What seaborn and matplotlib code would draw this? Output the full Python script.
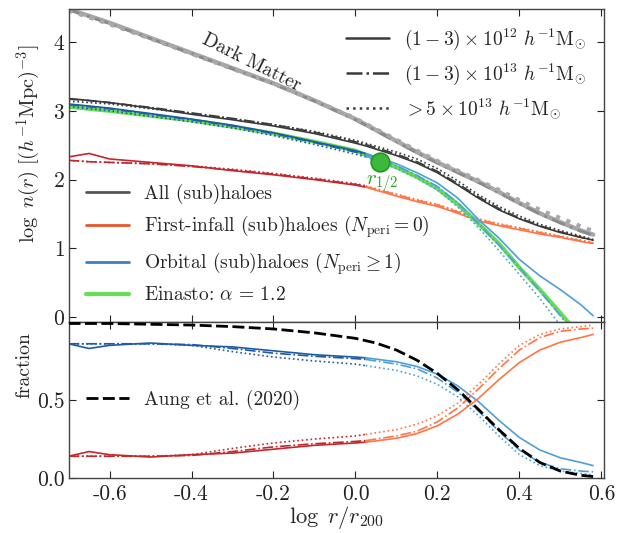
import numpy as np
import pandas as pd
import matplotlib
matplotlib.use("Agg")
import matplotlib.pyplot as plt
import seaborn as sns
from matplotlib.lines import Line2D

# ---------------- data ----------------
xg = [-0.70, -0.65, -0.60, -0.50, -0.40, -0.30, -0.20, -0.10, 0.00, 0.025,
      0.10, 0.15, 0.20, 0.25, 0.30, 0.35, 0.40, 0.45, 0.50, 0.55, 0.58]

dm_solid = [4.48, 4.38, 4.28, 4.06, 3.84, 3.62, 3.40, 3.15, 2.88, 2.80,
            2.56, 2.40, 2.25, 2.11, 1.97, 1.82, 1.66, 1.51, 1.38, 1.26, 1.20]
dm_dashdot = [4.47, 4.37, 4.27, 4.05, 3.83, 3.61, 3.39, 3.14, 2.87, 2.79,
              2.55, 2.39, 2.24, 2.10, 1.96, 1.81, 1.65, 1.50, 1.37, 1.25, 1.19]
dm_dotted = [4.46, 4.36, 4.26, 4.05, 3.83, 3.61, 3.40, 3.15, 2.89, 2.81,
             2.58, 2.42, 2.27, 2.13, 1.99, 1.85, 1.70, 1.56, 1.44, 1.32, 1.25]

all_solid = [3.18, 3.15, 3.12, 3.04, 2.95, 2.87, 2.78, 2.67, 2.53, 2.49,
             2.35, 2.24, 2.10, 1.92, 1.73, 1.56, 1.43, 1.32, 1.23, 1.16, 1.12]
all_dashdot = [3.17, 3.15, 3.12, 3.05, 2.97, 2.89, 2.80, 2.69, 2.55, 2.51,
               2.37, 2.26, 2.12, 1.94, 1.75, 1.58, 1.44, 1.33, 1.24, 1.16, 1.12]
all_dotted = [3.14, 3.12, 3.10, 3.03, 2.96, 2.88, 2.80, 2.70, 2.57, 2.53,
              2.40, 2.30, 2.16, 1.98, 1.78, 1.61, 1.47, 1.35, 1.26, 1.18, 1.13]

infall_solid = [2.33, 2.38, 2.30, 2.25, 2.20, 2.13, 2.07, 2.00, 1.92, 1.89,
                1.76, 1.68, 1.61, 1.51, 1.40, 1.33, 1.27, 1.21, 1.16, 1.10, 1.07]
infall_dashdot = [2.28, 2.26, 2.25, 2.23, 2.19, 2.14, 2.08, 2.01, 1.93, 1.90,
                  1.78, 1.70, 1.63, 1.53, 1.42, 1.35, 1.29, 1.23, 1.17, 1.11, 1.08]
infall_dotted = [2.28, 2.26, 2.25, 2.23, 2.20, 2.15, 2.09, 2.02, 1.94, 1.91,
                 1.79, 1.71, 1.64, 1.54, 1.43, 1.36, 1.30, 1.24, 1.18, 1.12, 1.09]

orb_solid = [3.10, 3.07, 3.04, 2.96, 2.88, 2.79, 2.68, 2.55, 2.42, 2.38,
             2.23, 2.10, 1.95, 1.73, 1.42, 1.15, 0.84, 0.60, 0.40, 0.18, 0.02]
orb_dashdot = [3.09, 3.06, 3.03, 2.95, 2.87, 2.78, 2.67, 2.54, 2.40, 2.36,
               2.20, 2.06, 1.90, 1.66, 1.36, 1.05, 0.72, 0.38, 0.02, -0.40, -0.60]
orb_dotted = [3.06, 3.03, 3.00, 2.92, 2.84, 2.75, 2.64, 2.51, 2.37, 2.33,
              2.16, 2.02, 1.85, 1.60, 1.30, 0.97, 0.62, 0.27, -0.12, -0.50, -0.70]

x_ein = [-0.70, -0.60, -0.50, -0.40, -0.30, -0.20, -0.10, 0.00, 0.10, 0.15,
         0.20, 0.25, 0.30, 0.35, 0.40, 0.45, 0.50, 0.52]
y_ein = [3.06, 3.00, 2.93, 2.86, 2.77, 2.67, 2.55, 2.42, 2.18, 2.04,
         1.87, 1.64, 1.36, 1.07, 0.72, 0.40, 0.06, -0.08]

r_half_x = [0.06]
r_half_y = [2.25]

# fractions
orbf_solid = [0.86, 0.83, 0.85, 0.865, 0.85, 0.84, 0.815, 0.79, 0.775, 0.77,
              0.745, 0.715, 0.665, 0.59, 0.49, 0.37, 0.26, 0.18, 0.13, 0.10, 0.08]
orbf_dashdot = [0.86, 0.86, 0.86, 0.86, 0.855, 0.83, 0.80, 0.78, 0.765, 0.76,
                0.73, 0.70, 0.64, 0.55, 0.43, 0.30, 0.18, 0.10, 0.06, 0.045, 0.04]
orbf_dotted = [0.86, 0.86, 0.86, 0.86, 0.85, 0.81, 0.775, 0.75, 0.73, 0.72,
               0.69, 0.655, 0.60, 0.52, 0.40, 0.27, 0.15, 0.08, 0.045, 0.03, 0.02]
infallf_solid = [0.14, 0.17, 0.15, 0.135, 0.15, 0.16, 0.185, 0.21, 0.225, 0.23,
                 0.255, 0.285, 0.335, 0.41, 0.51, 0.63, 0.74, 0.82, 0.87, 0.90, 0.92]
infallf_dashdot = [0.14, 0.14, 0.14, 0.14, 0.145, 0.17, 0.20, 0.22, 0.235, 0.24,
                   0.27, 0.30, 0.36, 0.45, 0.57, 0.70, 0.82, 0.90, 0.94, 0.955, 0.96]
infallf_dotted = [0.14, 0.14, 0.14, 0.14, 0.15, 0.19, 0.225, 0.25, 0.27, 0.28,
                  0.31, 0.345, 0.40, 0.48, 0.60, 0.73, 0.85, 0.92, 0.955, 0.97, 0.98]

x_aung = [-0.70, -0.60, -0.50, -0.40, -0.30, -0.20, -0.10, 0.00, 0.05, 0.10,
          0.15, 0.20, 0.25, 0.30, 0.35, 0.40, 0.45, 0.50, 0.55, 0.58]
f_aung = [0.99, 0.99, 0.985, 0.98, 0.97, 0.955, 0.93, 0.895, 0.865, 0.82,
          0.755, 0.67, 0.565, 0.44, 0.31, 0.19, 0.10, 0.045, 0.018, 0.01]

xticks = [-0.6, -0.4, -0.2, 0.0, 0.2, 0.4, 0.6]
xticklabels = ["-0.6", "-0.4", "-0.2", "0.0", "0.2", "0.4", "0.6"]

# ---------------- style ----------------
sns.set_theme(style="ticks")
plt.rcParams["font.family"] = ["cmr10", "DejaVu Serif"]
plt.rcParams["mathtext.fontset"] = "cm"
plt.rcParams["axes.unicode_minus"] = False
plt.rcParams["axes.formatter.use_mathtext"] = True

FS = 14
TICKFS = 15.5
C_ALL = "#3a3a3a"
C_DM = "#a8a8a8"
C_DM2 = "#8a8a8a"
C_RED_D = "#c4262b"
C_RED_L = "#ff7546"
C_BLU_D = "#1f5aa6"
C_BLU_L = "#4e9fd8"
C_EIN = "#66dd55"
AUNG_DASH = (0, (4.3, 1.6))

fig = plt.figure(figsize=(6.18, 5.33), dpi=100)
ax1 = fig.add_axes([0.111, 0.396, 0.866, 0.587])
ax2 = fig.add_axes([0.111, 0.103, 0.866, 0.293])

styles = ["-", "-.", ":"]
SPLIT = 9  # index of x=0.025 where colour changes


def draw(ax, xs, ys, color, ls, lw, zorder=2):
    sns.lineplot(x=xs, y=ys, ax=ax, color=color, linestyle=ls, lw=lw,
                 sort=False, estimator=None, legend=False, zorder=zorder)


def split_draw(ax, ys, cd, cl, ls, lw=1.2):
    draw(ax, xg[:SPLIT + 1], ys[:SPLIT + 1], cd, ls, lw)
    draw(ax, xg[SPLIT:], ys[SPLIT:], cl, ls, lw)


# top panel
draw(ax1, xg, dm_solid, C_DM, "-", 3.2, 1)
draw(ax1, xg, dm_dashdot, C_DM2, (0, (5, 2, 1, 2)), 2.0, 1)
draw(ax1, xg, dm_dotted, C_DM, ":", 3.0, 1)

for ys, ls in zip([all_solid, all_dashdot, all_dotted], styles):
    draw(ax1, xg, ys, C_ALL, ls, 1.2)
for ys, ls in zip([infall_solid, infall_dashdot, infall_dotted], styles):
    split_draw(ax1, ys, C_RED_D, C_RED_L, ls)
draw(ax1, x_ein, y_ein, C_EIN, "-", 3.0, 2)
for ys, ls in zip([orb_solid, orb_dashdot, orb_dotted], styles):
    split_draw(ax1, ys, C_BLU_D, C_BLU_L, ls)

sns.scatterplot(x=r_half_x, y=r_half_y, ax=ax1, s=180, color="#3cb83c",
                edgecolor="#229922", linewidth=1.2, zorder=5, legend=False)
ax1.text(0.066, 1.93, r"$r_{1/2}$", color="#2ca02c", fontsize=15,
         ha="center", va="center", zorder=6)
ax1.text(-0.255, 3.70, "Dark Matter", fontsize=FS, rotation=-26.5,
         rotation_mode="anchor", ha="center", va="center", color="#222222")

# bottom panel
draw(ax2, x_aung, f_aung, "black", AUNG_DASH, 2.0, 3)
for ys, ls in zip([orbf_solid, orbf_dashdot, orbf_dotted], styles):
    split_draw(ax2, ys, C_BLU_D, C_BLU_L, ls)
for ys, ls in zip([infallf_solid, infallf_dashdot, infallf_dotted], styles):
    split_draw(ax2, ys, C_RED_D, C_RED_L, ls)

# axes
for ax in (ax1, ax2):
    ax.set_xlim(-0.70, 0.606)
    ax.set_xticks(xticks)
    ax.tick_params(direction="in", top=True, right=True, length=5,
                   width=0.8, labelsize=TICKFS, colors="#222222")
    ax.tick_params(axis="y", pad=2.5)
    ax.tick_params(axis="x", pad=4.5)
    for s in ax.spines.values():
        s.set_color("#444444")
        s.set_linewidth(1.0)
ax1.set_ylim(-0.07, 4.48)
ax1.set_yticks([0, 1, 2, 3, 4])
ax1.set_xticklabels([])
ax2.set_ylim(0.0, 1.0)
ax2.set_yticks([0.0, 0.5])
ax2.set_yticklabels(["0.0", "0.5"])
ax2.set_xticklabels(xticklabels)

ax1.set_ylabel(r"$\log\ n(r)\ [(h^{-1}{\rm Mpc})^{-3}]$", fontsize=14.7)
ax2.set_ylabel("fraction", fontsize=14.2)
ax2.set_xlabel(r"$\log\ r/r_{200}$", fontsize=16.2)
ax1.yaxis.set_label_coords(-0.047, 0.57)
ax2.yaxis.set_label_coords(-0.066, 0.724)
ax2.xaxis.set_label_coords(0.5, -0.165)

# legends
h1 = [Line2D([], [], color=C_ALL, ls="-", lw=1.8),
      Line2D([], [], color=C_ALL, ls="-.", lw=1.8),
      Line2D([], [], color=C_ALL, ls=":", lw=1.8)]
l1 = [r"$(1-3)\times10^{12}\ h^{-1}{\rm M}_{\odot}$",
      r"$(1-3)\times10^{13}\ h^{-1}{\rm M}_{\odot}$",
      r"$>5\times10^{13}\ h^{-1}{\rm M}_{\odot}$"]
leg1 = ax1.legend(h1, l1, loc="upper right", frameon=False, fontsize=FS,
                  handlelength=2.2, labelspacing=0.5)
ax1.add_artist(leg1)

h2 = [Line2D([], [], color="#555555", lw=2),
      Line2D([], [], color="#e8572a", lw=2),
      Line2D([], [], color="#3a80c4", lw=2),
      Line2D([], [], color=C_EIN, lw=3)]
l2 = ["All (sub)haloes",
      r"First-infall (sub)haloes ($N_{\rm peri}=0$)",
      r"Orbital (sub)haloes ($N_{\rm peri}\geq1$)",
      r"Einasto: $\alpha\,=\,1.2$"]
ax1.legend(h2, l2, loc="lower left", frameon=False, fontsize=FS,
           handlelength=2.2, labelspacing=0.5)

h3 = [Line2D([], [], color="black", ls=AUNG_DASH, lw=2.0)]
ax2.legend(h3, ["Aung et al. (2020)"], loc="center left", frameon=False,
           fontsize=FS, handlelength=2.2, bbox_to_anchor=(0.0, 0.5))

fig.savefig("out.png", dpi=100)
